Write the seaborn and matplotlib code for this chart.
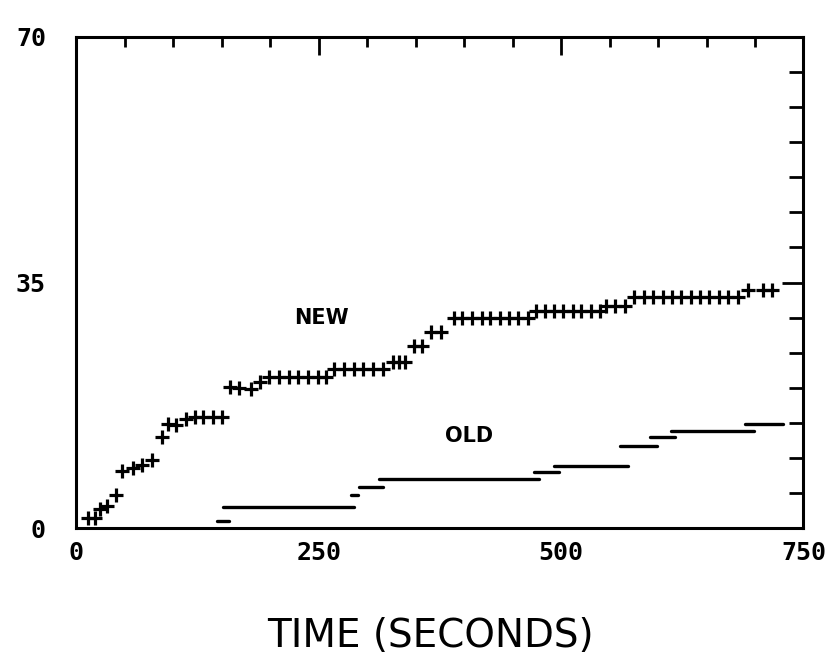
import matplotlib
matplotlib.use('Agg')
import matplotlib.pyplot as plt
import matplotlib.ticker as tick
import seaborn as sns
import pandas as pd

# NEW: marker times (s) and levels
new_time = [12, 19, 24, 31, 41, 47, 58, 68, 78, 88, 94, 103, 113, 122, 131, 141, 150,
            158, 168, 180, 189, 199, 209, 219, 229, 239, 249, 257,
            266, 276, 286, 296, 306, 316, 327, 333, 339, 348, 356, 366, 376,
            389, 398, 408, 418, 427, 437, 446, 456, 466,
            474, 483, 493, 502, 512, 521, 531, 540, 546, 556, 566,
            575, 585, 595, 605, 614, 624, 634, 643, 653, 663, 672, 682,
            693, 708, 718]
new_value = [1.5, 1.5, 2.7, 3.1, 4.7, 8.1, 8.6, 9.0, 9.7, 13.0, 14.8, 14.7, 15.6, 15.9, 15.9, 15.9, 15.9,
             20.1, 20.0, 19.9, 20.8, 21.6, 21.6, 21.6, 21.6, 21.6, 21.6, 21.6,
             22.7, 22.7, 22.7, 22.7, 22.7, 22.7, 23.7, 23.7, 23.7, 25.9, 25.9, 28.0, 28.0,
             29.9, 29.9, 29.9, 29.9, 29.9, 29.9, 29.9, 29.9, 29.9,
             31.0, 31.0, 31.0, 31.0, 31.0, 31.0, 31.0, 31.0, 31.7, 31.7, 31.7,
             32.9, 32.9, 32.9, 32.9, 32.9, 32.9, 32.9, 32.9, 32.9, 32.9, 32.9, 32.9,
             33.9, 33.9, 33.9]

# OLD: horizontal runs (start s, end s, level)
old_start = [145, 151, 283, 291, 312, 472, 493, 561, 592, 613, 690]
old_end = [157, 286, 290, 316, 477, 498, 569, 599, 618, 699, 729]
old_value = [1.0, 3.0, 4.8, 5.9, 7.0, 8.0, 8.9, 11.7, 13.0, 13.8, 14.8]

x_ticks = [0, 250, 500, 750]
y_ticks = [0, 35, 70]

sns.set_style('white')
plt.rcParams['font.family'] = ['DejaVu Sans']
plt.rcParams['text.color'] = 'black'
plt.rcParams['xtick.color'] = 'black'
plt.rcParams['ytick.color'] = 'black'

fig = plt.figure(figsize=(8.27, 6.57), dpi=100)
ax = fig.add_axes([0.0925, 0.196, 0.879, 0.748])

new_df = pd.DataFrame({'time': new_time, 'value': new_value})
sns.scatterplot(data=new_df, x='time', y='value', marker='+', s=110,
                color='black', edgecolor='black', linewidth=2.3, ax=ax)

old_df = pd.DataFrame({
    'seg': [i for i in range(len(old_start)) for _ in range(2)],
    'time': [t for pair in zip(old_start, old_end) for t in pair],
    'value': [v for v in old_value for _ in range(2)],
})
sns.lineplot(data=old_df, x='time', y='value', units='seg', estimator=None,
             color='black', linewidth=2.4, ax=ax)

ax.set_xlim(0, 750)
ax.set_ylim(0, 70)
ax.set_xlabel('')
ax.set_ylabel('')

ax.xaxis.set_major_locator(tick.FixedLocator(x_ticks))
ax.xaxis.set_minor_locator(tick.MultipleLocator(50))
ax.yaxis.set_major_locator(tick.FixedLocator(y_ticks))
ax.yaxis.set_minor_locator(tick.MultipleLocator(5))

ax.tick_params(which='both', direction='in', top=True, right=True,
               width=2, color='black', labelcolor='black')
ax.tick_params(axis='x', which='major', length=13, pad=9, labelsize=18)
ax.tick_params(axis='x', which='minor', length=7)
ax.tick_params(axis='y', which='major', length=15, pad=22, labelsize=18)
ax.tick_params(axis='y', which='minor', length=10)
for lab in ax.get_xticklabels() + ax.get_yticklabels():
    lab.set_fontfamily('DejaVu Sans Mono')
    lab.set_fontweight('bold')

for sp in ax.spines.values():
    sp.set_visible(True)
    sp.set_color('black')
    sp.set_linewidth(2.2)

ax.text(253, 30.0, 'NEW', ha='center', va='center', fontsize=15, fontweight='bold', color='black')
ax.text(405, 13.2, 'OLD', ha='center', va='center', fontsize=15, fontweight='bold', color='black')

fig.text(0.52, 0.032, 'TIME (SECONDS)', ha='center', va='center', fontsize=28, color='black')

fig.savefig('out.png', dpi=100)
